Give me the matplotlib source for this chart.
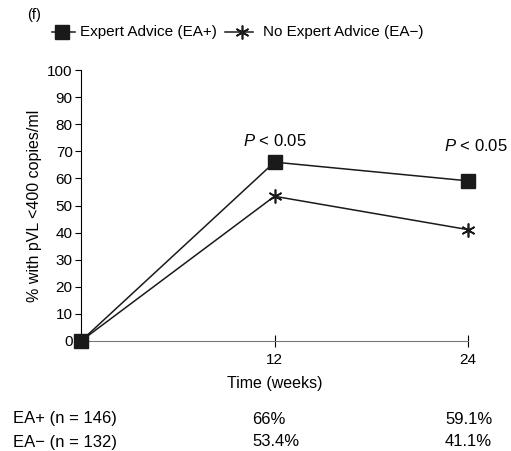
import matplotlib
matplotlib.use('Agg')
import matplotlib.pyplot as plt
from matplotlib.lines import Line2D

plt.rcParams['font.family'] = ['Liberation Sans', 'DejaVu Sans']
plt.rcParams['mathtext.fontset'] = 'custom'
plt.rcParams['mathtext.it'] = 'Liberation Sans:italic'
plt.rcParams['mathtext.rm'] = 'Liberation Sans'

weeks = [0, 12, 24]
ea_plus = [0, 66, 59.1]
ea_minus = [0, 53.4, 41.1]
row_labels = ['EA+ (n = 146)', 'EA\u2212 (n = 132)']
ea_plus_labels = ['66%', '59.1%']
ea_minus_labels = ['53.4%', '41.1%']
sig_labels = ['$P$ < 0.05', '$P$ < 0.05']
legend_labels = ['Expert Advice (EA+)', 'No Expert Advice (EA\u2212)']

W, H = 511, 451
fig = plt.figure(figsize=(W/100, H/100), dpi=100)
ax = fig.add_axes([81/W, 1-341/H, (468-81)/W, (341-70)/H])

star = (6, 2, 0)
ax.plot(weeks, ea_minus, color='#1a1a1a', lw=1.1, marker=star, ms=10,
        mew=1.2, clip_on=False, zorder=3)
ax.plot(weeks, ea_plus, color='#1a1a1a', lw=1.1, marker='s', ms=10,
        clip_on=False, zorder=4)

ax.set_xlim(0, 24)
ax.set_ylim(0, 100)
ax.set_yticks(range(0, 101, 10))
ax.set_xticks([12, 24])
ax.spines['top'].set_visible(False)
ax.spines['right'].set_visible(False)
ax.spines['bottom'].set_color('#777777')
ax.tick_params(axis='y', direction='out', length=4, labelsize=11, pad=2)
ax.tick_params(axis='x', direction='inout', length=8, labelsize=11, pad=5)
ax.set_ylabel('% with pVL <400 copies/ml', fontsize=11.5, labelpad=4)
ax.set_xlabel('Time (weeks)', fontsize=11.5, labelpad=6)

# significance labels
ax.text(12, 73.8, sig_labels[0], fontsize=12, ha='center', va='center')
ax.text(24.5, 72, sig_labels[1], fontsize=12, ha='center', va='center')

# legend drawn by hand
ly = 1 - 32/H
fig.add_artist(Line2D([52/W, 75/W], [ly, ly], color='#1a1a1a', lw=1.1))
fig.add_artist(Line2D([62/W], [ly], color='#1a1a1a', marker='s', ms=10))
fig.text(80/W, ly, legend_labels[0], fontsize=11, va='center')
fig.add_artist(Line2D([225/W, 253/W], [ly, ly], color='#1a1a1a', lw=1.1))
fig.add_artist(Line2D([242/W], [ly], color='#1a1a1a', marker=star, ms=10, mew=1.2))
fig.text(263/W, ly, legend_labels[1], fontsize=11, va='center')
fig.text(27/W, 1-15/H, '(f)', fontsize=10.5, va='center')

# bottom table
rows_y = [419, 442]
fig.text(13/W, 1-rows_y[0]/H, row_labels[0], fontsize=12, va='center')
fig.text(13/W, 1-rows_y[1]/H, row_labels[1], fontsize=12, va='center')
col_x = [252, 445]
for i in range(2):
    fig.text(col_x[i]/W, 1-rows_y[0]/H, ea_plus_labels[i], fontsize=12, va='center')
    fig.text(col_x[i]/W, 1-rows_y[1]/H, ea_minus_labels[i], fontsize=12, va='center')

fig.savefig('out.png', dpi=100)
